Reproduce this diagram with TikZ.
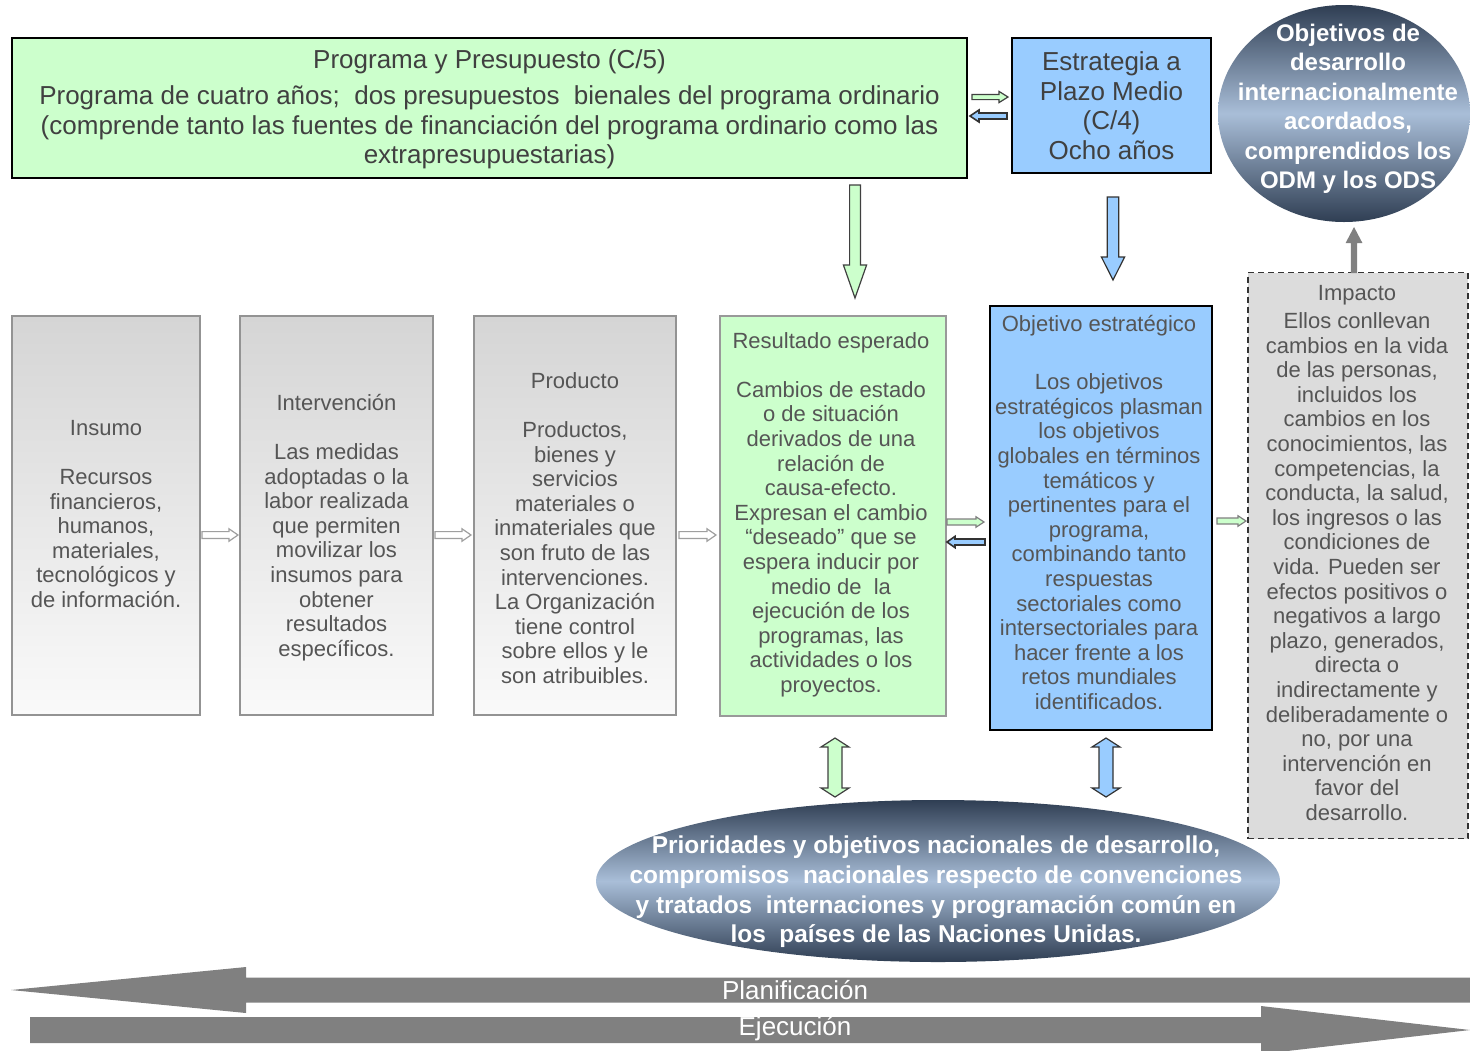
\documentclass[tikz,border=0pt]{standalone}
\usepackage{fontspec}
\setmainfont{Liberation Sans}
\usetikzlibrary{calc,shapes.geometric}

\definecolor{verde}{HTML}{CCFFCC}
\definecolor{azul}{HTML}{99CCFF}
\definecolor{grisfondo}{HTML}{DCDCDC}
\definecolor{gristop}{HTML}{D5D5D5}
\definecolor{gristexto}{HTML}{555555}
\definecolor{flecha}{HTML}{808080}
\definecolor{elipOsc}{HTML}{2F3E53}
\definecolor{elipClr}{HTML}{A9BED8}

% block arrow: style, from, to, half shaft, head length, half head
\newcommand{\flechabloque}[6]{%
	\coordinate (fb-c) at ($#3!#5!#2$);
	\path[#1] ($#2!#4!90:#3$) -- ($(fb-c)!#4!-90:#2$) -- ($(fb-c)!#6!-90:#2$) -- #3
		-- ($(fb-c)!#6!90:#2$) -- ($(fb-c)!#4!90:#2$) -- ($#2!#4!-90:#3$) -- cycle;
}
% two headed block arrow, same arguments
\newcommand{\flechadoble}[6]{%
	\coordinate (fd-a) at ($#2!#5!#3$);
	\coordinate (fd-b) at ($#3!#5!#2$);
	\path[#1] #2 -- ($(fd-a)!#6!90:#3$) -- ($(fd-a)!#4!90:#3$) -- ($(fd-b)!#4!-90:#2$) -- ($(fd-b)!#6!-90:#2$) -- #3
		-- ($(fd-b)!#6!90:#2$) -- ($(fd-b)!#4!90:#2$) -- ($(fd-a)!#4!-90:#3$) -- ($(fd-a)!#6!-90:#3$) -- cycle;
}

\begin{document}
\begin{tikzpicture}[x=0.5pt, y=-0.5pt,
	caja/.style={draw=black, line width=0.9pt, inner sep=0pt},
	cajagris/.style={draw=gray!85, line width=0.8pt, top color=gristop, bottom color=white!96!gray, inner sep=0pt},
	texto/.style={align=center, text=gristexto, font=\fontsize{11}{12.3}\selectfont, inner sep=0pt},
	textogrande/.style={align=center, text=black!75, font=\fontsize{13}{14.75}\selectfont, inner sep=0pt},
	elipse/.style={ellipse, inner sep=0pt, top color=elipOsc, bottom color=elipOsc, middle color=elipClr},
	textoelipse/.style={align=center, text=white, font=\bfseries\fontsize{12}{14.75}\selectfont, inner sep=0pt},
	hueca/.style={draw=gray!75, fill=white, line width=0.6pt},
	verdef/.style={draw=black!75, fill=verde, line width=0.6pt},
	azulf/.style={draw=black!80, fill=azul, line width=0.6pt},
	grisf/.style={fill=flecha}]

	\useasboundingbox (0,0) rectangle (1470,1050);
	\clip (0,0) rectangle (1470,1050);

% top boxes
	\node[caja, fill=verde, minimum width=477.5pt, minimum height=70pt] (pp) at (489.5,108) {};
	\node[textogrande] (pp-t) at (489.5,109.5)
		{Programa y Presupuesto (C/5)\\[3.5pt]
		Programa de cuatro años;~ dos presupuestos~ bienales del programa ordinario\\
		(comprende tanto las fuentes de financiación del programa ordinario como las\\
		extrapresupuestarias)};
	\node[caja, fill=azul, textogrande, minimum width=99.5pt, minimum height=67.5pt] (epm) at (1111.5,105.5)
		{Estrategia a\\ Plazo Medio\\ (C/4)\\ Ocho años};
	\node[elipse, minimum width=126pt, minimum height=108.5pt] (odm) at (1344,113.5) {};
	\node[textoelipse] (odm-t) at (1348,109)
		{Objetivos de\\ desarrollo\\ internacionalmente\\ acordados,\\ comprendidos los\\ ODM y los ODS};

% chain of boxes
	\node[cajagris, minimum width=94pt, minimum height=199.5pt] (insumo) at (106,515.5) {};
	\node[texto] (insumo-t) at (106,514)
		{Insumo\\[12.3pt] Recursos\\ financieros,\\ humanos,\\ materiales,\\ tecnológicos y\\ de información.};
	\node[cajagris, minimum width=96.5pt, minimum height=199.5pt] (interv) at (336.5,515.5) {};
	\node[texto] (interv-t) at (336.5,527.5)
		{Intervención\\[12.3pt] Las medidas\\ adoptadas o la\\ labor realizada\\ que permiten\\ movilizar los\\ insumos para\\ obtener\\ resultados\\ específicos.};
	\node[cajagris, minimum width=101pt, minimum height=199.5pt] (prod) at (575,515.5) {};
	\node[texto] (prod-t) at (575,528)
		{Producto\\[12.3pt] Productos,\\ bienes y\\ servicios\\ materiales o\\ inmateriales que\\ son fruto de las\\ intervenciones.\\ La Organización\\ tiene control\\ sobre ellos y le\\ son atribuibles.};
	\node[draw=gray!80, line width=0.8pt, fill=verde, minimum width=113pt, minimum height=200pt] (res) at (833,516) {};
	\node[texto] (res-t) at (831,514.5)
		{Resultado esperado\\[12.3pt] Cambios de estado\\ o de situación\\ derivados de una\\ relación de\\ causa-efecto.\\ Expresan el cambio\\ “deseado” que se\\ espera inducir por\\ medio de~ la\\ ejecución de los\\ programas, las\\ actividades o los\\ proyectos.};
	\node[draw=black, line width=1.2pt, fill=azul, minimum width=111pt, minimum height=212pt] (obj) at (1101,518) {};
	\node[texto] (obj-t) at (1099,512.5)
		{Objetivo estratégico\\[16.7pt] Los objetivos\\ estratégicos plasman\\ los objetivos\\ globales en términos\\ temáticos y\\ pertinentes para el\\ programa,\\ combinando tanto\\ respuestas\\ sectoriales como\\ intersectoriales para\\ hacer frente a los\\ retos mundiales\\ identificados.};
	\node[draw=black!80, line width=0.8pt, dash pattern=on 3pt off 2pt, fill=grisfondo, minimum width=110pt, minimum height=283pt] (imp) at (1358,555.5) {};
	\node[texto] (imp-t) at (1357,553)
		{Impacto\\[1.7pt] Ellos conllevan\\ cambios en la vida\\ de las personas,\\ incluidos los\\ cambios en los\\ conocimientos, las\\ competencias, la\\ conducta, la salud,\\ los ingresos o las\\ condiciones de\\ vida. Pueden ser\\ efectos positivos o\\ negativos a largo\\ plazo, generados,\\ directa o\\ indirectamente y\\ deliberadamente o\\ no, por una\\ intervención en\\ favor del\\ desarrollo.};

% national ellipse
	\node[elipse, minimum width=342pt, minimum height=81pt] (nac) at (938,881) {};
	\node[textoelipse, font=\bfseries\fontsize{12.2}{14.85}\selectfont] (nac-t) at (936,892)
		{Prioridades y objetivos nacionales de desarrollo,\\ compromisos~ nacionales respecto de convenciones\\ y tratados~ internaciones y programación común en\\ los~ países de las Naciones Unidas.};

% arrow ends
	\coordinate (pe-a) at (972,97);   \coordinate (pe-b) at (1008,97);
	\coordinate (ep-a) at (1007,116); \coordinate (ep-b) at (970,116);
	\coordinate (pr-a) at (855,185);  \coordinate (pr-b) at (855,298);
	\coordinate (eo-a) at (1113,197); \coordinate (eo-b) at (1113,280);
	\coordinate (io-a) at (1354,273); \coordinate (io-b) at (1354,227);
	\coordinate (ii-a) at (202,535);  \coordinate (ii-b) at (238,535);
	\coordinate (ip-a) at (435,535);  \coordinate (ip-b) at (471,535);
	\coordinate (pres-a) at (679,535); \coordinate (pres-b) at (716,535);
	\coordinate (ro-a) at (947,522);  \coordinate (ro-b) at (984,522);
	\coordinate (or-a) at (985,542);  \coordinate (or-b) at (947,542);
	\coordinate (oi-a) at (1217,521); \coordinate (oi-b) at (1246,521);
	\coordinate (rn-a) at (835,738);  \coordinate (rn-b) at (835,797);
	\coordinate (on-a) at (1106,738); \coordinate (on-b) at (1106,797);
	\coordinate (plan-a) at (1475,990); \coordinate (plan-b) at (11,990);
	\coordinate (ejec-a) at (30,1030);  \coordinate (ejec-b) at (1470,1030);

% draw arrows
	\flechabloque{verdef}{(pe-a)}{(pe-b)}{1.3pt}{4.5pt}{2.8pt}
	\flechabloque{azulf, line width=0.8pt}{(ep-a)}{(ep-b)}{1.5pt}{4.5pt}{3pt}
	\flechabloque{verdef}{(pr-a)}{(pr-b)}{2.7pt}{16.5pt}{5.8pt}
	\flechabloque{azulf}{(eo-a)}{(eo-b)}{2.9pt}{11.5pt}{5.8pt}
	\flechabloque{grisf}{(io-a)}{(io-b)}{1.6pt}{8pt}{4.2pt}
	\flechabloque{hueca}{(ii-a)}{(ii-b)}{1.7pt}{4.5pt}{3.1pt}
	\flechabloque{hueca}{(ip-a)}{(ip-b)}{1.7pt}{4.5pt}{3.1pt}
	\flechabloque{hueca}{(pres-a)}{(pres-b)}{1.7pt}{4.5pt}{3.1pt}
	\flechabloque{verdef, draw=gray}{(ro-a)}{(ro-b)}{1.5pt}{4pt}{2.6pt}
	\flechabloque{azulf, line width=0.8pt}{(or-a)}{(or-b)}{1.5pt}{4pt}{2.8pt}
	\flechabloque{verdef, draw=gray}{(oi-a)}{(oi-b)}{1.5pt}{4pt}{2.6pt}
	\flechadoble{verdef}{(rn-a)}{(rn-b)}{3.5pt}{4.5pt}{7pt}
	\flechadoble{azulf}{(on-a)}{(on-b)}{3.5pt}{4.5pt}{7pt}

% planning and execution
	\flechabloque{grisf}{(plan-a)}{(plan-b)}{6.25pt}{117.5pt}{11.5pt}
	\flechabloque{grisf}{(ejec-a)}{(ejec-b)}{6.5pt}{104.5pt}{12pt}
	\node[text=white, font=\fontsize{13}{14}\selectfont, inner sep=0pt] (plan-t) at (795,990) {Planificación};
	\node[text=white, font=\fontsize{13}{14}\selectfont, inner sep=0pt] (ejec-t) at (795,1029) {Ejecución};

\end{tikzpicture}
\end{document}
